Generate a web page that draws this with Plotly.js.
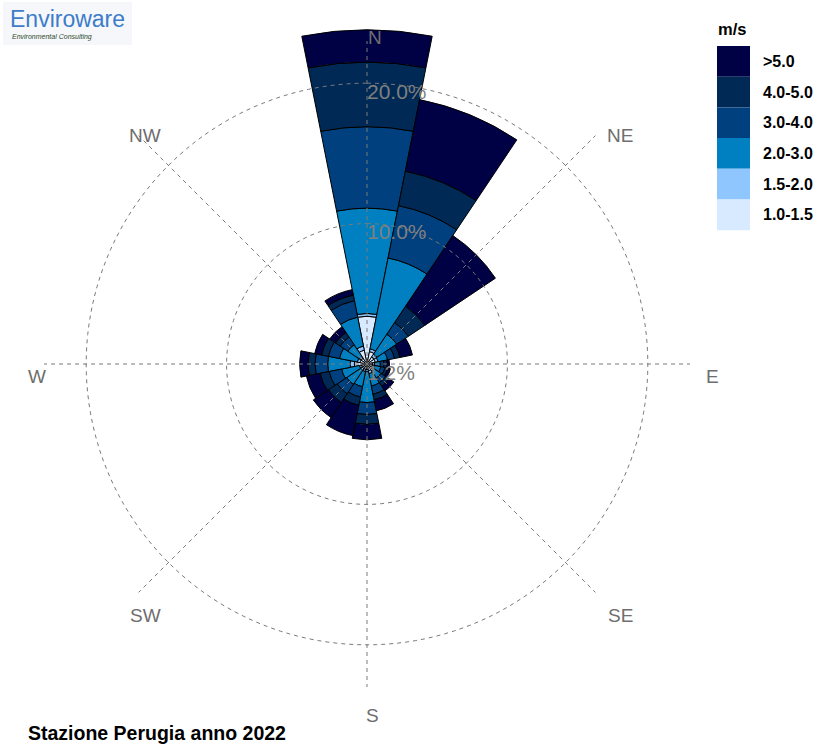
<!DOCTYPE html>
<html>
<head>
<meta charset="utf-8">
<script src="https://cdn.plot.ly/plotly-3.0.1.min.js"></script>
<style>
  html, body { margin: 0; padding: 0; background: #ffffff; }
  #chart { width: 819px; height: 747px; }
</style>
</head>
<body>
<div id="chart"></div>
<script>
// ---- data (frequency %, per direction sector) ----
const directions = ["N","NNE","NE","ENE","E","ESE","SE","SSE","S","SSW","SW","WSW","W","WNW","NW","NNW"];
const speedBins = ["1.0-1.5","1.5-2.0","2.0-3.0","3.0-4.0","4.0-5.0",">5.0"];
const binColors = ["#d8eaff","#8ec6fd","#0080c0","#00407f","#002a55","#000045"];
const freq_1_0_1_5 = [3.4,0.9,0.6,0.6,0.4,0.4,0.45,0.5,0.4,0.4,0.4,0.4,0.9,0.5,0.5,1.0];
const freq_1_5_2_0 = [0.2,0.2,0.25,0.2,0.15,0.15,0.15,0.2,0.15,0.15,0.15,0.15,0.3,0.2,0.15,0.3];
const freq_2_0_3_0 = [7.5,6.6,1.7,0.7,0.4,0.45,0.6,0.9,2.2,1.1,1.2,1.3,1.6,1.3,1.0,2.1];
const freq_3_0_4_0 = [5.8,3.8,1.0,0.5,0.25,0.3,0.4,0.6,0.85,0.75,0.8,0.9,0.9,0.8,0.65,1.2];
const freq_4_0_5_0 = [4.6,2.5,1.4,0.4,0.2,0.2,0.3,0.4,0.7,0.6,0.75,0.65,0.5,0.5,0.4,0.4];
const freq_gt_5_0  = [2.3,5.2,6.05,0.9,0.2,0.2,0.4,0.8,1.1,2.2,1.3,1.0,0.6,0.5,0.5,0.4];
const ringValues = [10, 20];
const ringLabels = ["10.0%", "20.0%"];
const calmLabel = "1.2%";
const compassLabels = ["N","NE","E","SE","S","SW","W","NW"];
const chartTitle = "Stazione Perugia anno 2022";
const legendTitle = "m/s";

// ---- build traces ----
const sectorWidth = 360 / directions.length;
const thetas = directions.map((d, i) => i * sectorWidth);
const series = [freq_1_0_1_5, freq_1_5_2_0, freq_2_0_3_0, freq_3_0_4_0, freq_4_0_5_0, freq_gt_5_0];

const traces = series.map((vals, k) => ({
  type: 'barpolar',
  name: speedBins[k],
  r: vals,
  theta: thetas,
  width: sectorWidth,
  marker: { color: binColors[k], line: { color: '#000000', width: 1 } },
  showlegend: false,
  hoverinfo: 'skip'
}));

const gridColor = '#7a7a7a';
const gridDash = '4px,4px';

// dashed rings (drawn above the bars)
ringValues.forEach(rv => {
  const th = [], rr = [];
  for (let a = 0; a <= 360; a += 2) { th.push(a); rr.push(rv); }
  traces.push({
    type: 'scatterpolar', mode: 'lines', r: rr, theta: th,
    line: { color: gridColor, width: 1, dash: gridDash },
    showlegend: false, hoverinfo: 'skip'
  });
});

// dashed spokes
const spokeLen = 23.0;
const spR = [], spT = [];
compassLabels.forEach((c, i) => {
  const a = i * 45;
  spR.push(0, spokeLen, null);
  spT.push(a, a, null);
});
traces.push({
  type: 'scatterpolar', mode: 'lines', r: spR, theta: spT,
  line: { color: gridColor, width: 1, dash: gridDash },
  showlegend: false, hoverinfo: 'skip', connectgaps: false
});

// ring labels
traces.push({
  type: 'scatterpolar', mode: 'text',
  r: ringValues.concat([0]), theta: [0, 0, 0],
  text: ringLabels.concat([calmLabel]),
  textposition: 'bottom right',
  textfont: { family: 'Liberation Sans, Arial, sans-serif', size: 21, color: '#7f7f7f' },
  cliponaxis: false, showlegend: false, hoverinfo: 'skip'
});

// ---- layout ----
const W = 819, H = 747;
const px = x => x / W;
const py = y => 1 - y / H;

const shapes = [];
const annotations = [];

// compass labels (placed around the rose)
const compassPos = [[375,38],[620,135],[712,377],[620,615],[372,715],[145,615],[37,377],[145,135]];
compassLabels.forEach((c, i) => {
  annotations.push({
    xref: 'paper', yref: 'paper', x: px(compassPos[i][0]), y: py(compassPos[i][1]),
    xanchor: 'center', yanchor: 'middle', showarrow: false, text: c,
    font: { family: 'Liberation Sans, Arial, sans-serif', size: 19, color: '#6e6e6e' }
  });
});

// legend (built from the bins, top = highest speed)
const legX0 = 717, legX1 = 750, legTop = 46, legH = 30.7;
const nb = speedBins.length;
for (let j = 0; j < nb; j++) {
  const k = nb - 1 - j;
  const y0 = legTop + j * legH, y1 = y0 + legH;
  shapes.push({
    type: 'rect', xref: 'paper', yref: 'paper',
    x0: px(legX0), x1: px(legX1), y0: py(y1), y1: py(y0),
    fillcolor: binColors[k], line: { width: 0 }
  });
  annotations.push({
    xref: 'paper', yref: 'paper', x: px(761), y: py((y0 + y1) / 2),
    xanchor: 'left', yanchor: 'middle', showarrow: false,
    text: '<b>' + speedBins[k] + '</b>',
    font: { family: 'Liberation Sans, Arial, sans-serif', size: 16, color: '#000000' }
  });
}
annotations.push({
  xref: 'paper', yref: 'paper', x: px(716), y: py(29),
  xanchor: 'left', yanchor: 'middle', showarrow: false,
  text: '<b>' + legendTitle + '</b>',
  font: { family: 'Liberation Sans, Arial, sans-serif', size: 16.5, color: '#000000' }
});

// logo
shapes.push({
  type: 'rect', xref: 'paper', yref: 'paper', layer: 'below',
  x0: px(3), x1: px(132), y0: py(45), y1: py(2),
  fillcolor: '#f5f7fa', line: { width: 0 }
});
annotations.push({
  xref: 'paper', yref: 'paper', x: px(8), y: py(19),
  xanchor: 'left', yanchor: 'middle', showarrow: false,
  text: 'Enviroware',
  font: { family: 'Liberation Sans, Arial, sans-serif', size: 23, color: '#3d7cc9' }
});
annotations.push({
  xref: 'paper', yref: 'paper', x: px(10), y: py(37),
  xanchor: 'left', yanchor: 'middle', showarrow: false,
  text: '<i>Environmental Consulting</i>',
  font: { family: 'Liberation Sans, Arial, sans-serif', size: 7, color: '#2d4a2d' }
});

// title
annotations.push({
  xref: 'paper', yref: 'paper', x: px(26), y: py(733),
  xanchor: 'left', yanchor: 'middle', showarrow: false,
  text: '<b>' + chartTitle + '</b>',
  font: { family: 'Liberation Sans, Arial, sans-serif', size: 19.5, color: '#000000' }
});

// polar area: centre (367,364), 24% -> 337 px
const cx = 367, cy = 364, R = 337;
const layout = {
  width: W, height: H,
  margin: { l: 0, r: 0, t: 0, b: 0 },
  paper_bgcolor: '#ffffff',
  showlegend: false,
  polar: {
    domain: { x: [px(cx - R), px(cx + R)], y: [py(cy + R), py(cy - R)] },
    bgcolor: '#ffffff',
    barmode: 'stack',
    bargap: 0,
    radialaxis: { range: [0, 24], visible: false, showgrid: false, showline: false },
    angularaxis: {
      direction: 'clockwise', rotation: 90,
      showgrid: false, showline: false, showticklabels: false, ticks: ''
    }
  },
  shapes: shapes,
  annotations: annotations
};

Plotly.newPlot('chart', traces, layout, { displayModeBar: false, staticPlot: true });
</script>
</body>
</html>
